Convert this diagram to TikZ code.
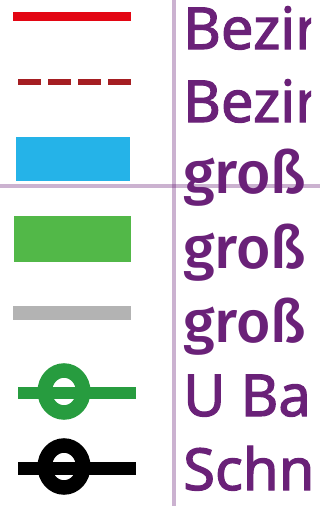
\documentclass[tikz,border=0pt]{standalone}
\usepackage{fontspec}
\newfontfamily\legendfont{Noto Sans}[FakeBold=2]
\newfontfamily\grossfont{Fira Sans}[UprightFont={* Medium}]
\definecolor{legendpurple}{HTML}{6A2178}
\definecolor{grenzrot}{HTML}{E30613}
\definecolor{grenzdunkel}{HTML}{A51E22}
\definecolor{flaecheblau}{HTML}{25B3E8}
\definecolor{flaechegruen}{HTML}{52B848}
\definecolor{flaechegrau}{HTML}{B3B3B3}
\definecolor{ubahngruen}{HTML}{279C3F}

\begin{document}
\begin{tikzpicture}[
		x=1pt, y=-1pt,
		legendtext/.style={anchor=base west, inner sep=0pt, text=legendpurple,
			font=\legendfont\fontsize{58}{58}\selectfont},
		grosstext/.style={legendtext, font=\grossfont\fontsize{59}{59}\selectfont},
		gridline/.style={line width=4pt, draw=legendpurple, draw opacity=0.35},
		linie/.style={line width=#1},
		station/.style={line width=14.5pt, x radius=19.25pt, y radius=21pt}
	]
	\useasboundingbox (0,0) rectangle (320,506);

	% Symbole
	\draw[linie=9pt, grenzrot] (13,16.5) -- (131,16.5);
	\draw[linie=6pt, grenzdunkel, dash pattern=on 23pt off 7pt] (18,82) -- (131,82);
	\fill[flaecheblau] (16,137) rectangle (130,181);
	\fill[flaechegruen] (14,216) rectangle (131,262);
	\draw[linie=14pt, flaechegrau] (13,313) -- (131,313);
	\draw[linie=12pt, ubahngruen] (18,393) -- (136,393);
	\draw[station, ubahngruen] (64,391.5) ellipse [];
	\draw[linie=13pt, black] (18,468.5) -- (136,468.5);
	\draw[station, black] (64,466.5) ellipse [];

	% Texte
	\begin{scope}
		\clip (178,0) rectangle (311,506);
		\node[legendtext] (bezirA) at (183,49) {Bezir};
		\node[legendtext] (bezirB) at (183,122) {Bezir};
		\node[grosstext] (grossA) at (183,193) {groß};
		\node[grosstext] (grossB) at (183,268) {groß};
		\node[grosstext] (grossC) at (183,342) {groß};
		\node[legendtext] (ubahn) at (183,416) {U Ba};
		\node[legendtext] (schn) at (183,490) {Schn};
	\end{scope}

	% Raster
	\draw[gridline] (173.5,0) -- (173.5,506);
	\draw[gridline] (0,186) -- (320,186);
\end{tikzpicture}
\end{document}
